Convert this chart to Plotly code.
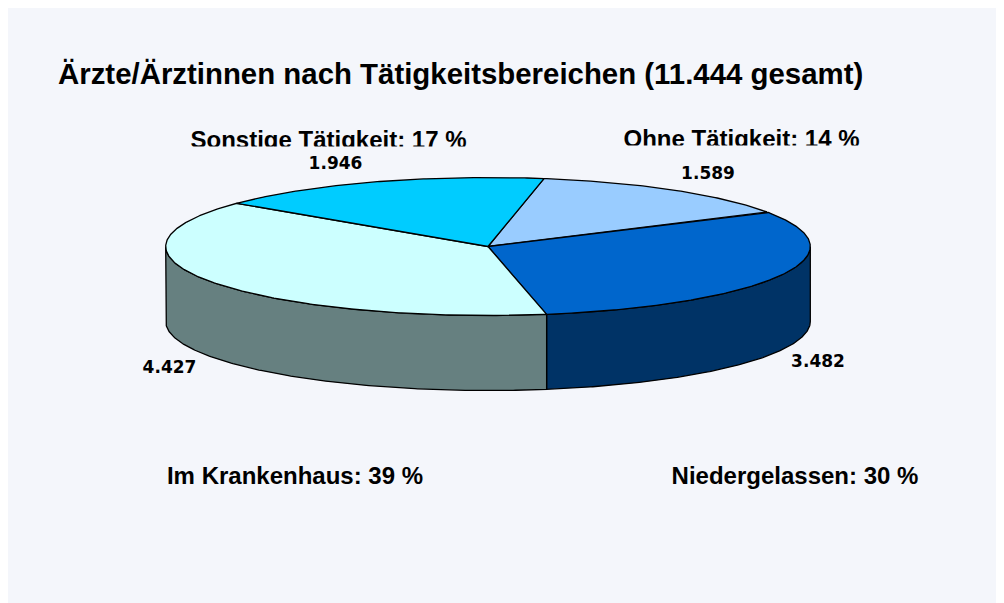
import math
import numpy as np
import plotly.graph_objects as go

# Data
categories = ["Ohne Tätigkeit", "Niedergelassen", "Im Krankenhaus", "Sonstige Tätigkeit"]
values = [1589, 3482, 4427, 1946]
percents = [14, 30, 39, 17]
value_labels = ["1.589", "3.482", "4.427", "1.946"]
title_text = "Ärzte/Ärztinnen nach Tätigkeitsbereichen (11.444 gesamt)"

# Style
top_colors = ["#99CCFF", "#0066CC", "#CCFFFF", "#00CCFF"]
side_colors = ["#4D6680", "#003366", "#668080", "#006680"]
BG = "#F4F6FB"
OFF = 8            # the page's own margin around the figure
W, H = 1004 - OFF, 603 - OFF
CX, CY, RX, RY, DEPTH = 488.0, 246.5, 322.3, 69.0, 75.0
START = 10.0
cat_pos = [(741.5, 140.5), (795, 477.5), (295, 477.5), (328.5, 141.5)]
val_pos = [(708, 174.5), (818, 363), (169.5, 369), (335.5, 165)]


def rim(a0, a1, dy=0.0):
    t = np.radians(np.linspace(a0, a1, max(2, int(abs(a1 - a0) * 2) + 1)))
    return CX + RX * np.sin(t), CY + dy - RY * np.cos(t)


fig = go.Figure()
edges = START + np.concatenate([[0], np.cumsum(values)]) / sum(values) * 360

# side walls (front half only)
for i in range(len(values)):
    a0, a1 = max(edges[i], 90), min(edges[i + 1], 270)
    if a1 <= a0:
        continue
    xt, yt = rim(a0, a1)
    xb, yb = rim(a1, a0, DEPTH)
    fig.add_trace(go.Scatter(
        x=np.concatenate([xt, xb, xt[:1]]), y=np.concatenate([yt, yb, yt[:1]]),
        mode="lines", fill="toself", fillcolor=side_colors[i],
        line=dict(color="#000000", width=1.3), hoverinfo="skip", showlegend=False))

# top slices
for i, name in enumerate(categories):
    xr, yr = rim(edges[i], edges[i + 1])
    fig.add_trace(go.Scatter(
        x=np.concatenate([[CX], xr, [CX]]), y=np.concatenate([[CY], yr, [CY]]),
        mode="lines", fill="toself", fillcolor=top_colors[i], name=name,
        line=dict(color="#000000", width=1.3), hoverinfo="name", showlegend=False))

# category labels
fig.add_trace(go.Scatter(
    x=[p[0] for p in cat_pos], y=[p[1] for p in cat_pos],
    text=[f"<b>{c}: {p} %</b>" for c, p in zip(categories, percents)],
    mode="text", textposition="middle center",
    textfont=dict(family="Liberation Sans", size=24, color="#000000"),
    hoverinfo="skip", showlegend=False))

# value labels
fig.add_trace(go.Scatter(
    x=[p[0] for p in val_pos], y=[p[1] for p in val_pos],
    text=[f"<b>{v}</b>" for v in value_labels],
    mode="text", textposition="middle center",
    textfont=dict(family="DejaVu Sans", size=17, color="#000000"),
    hoverinfo="skip", showlegend=False))

shapes = [
    dict(type="rect", layer="above", x0=180, x1=480, y0=146.5, y1=154, fillcolor=BG, line_width=0),
    dict(type="rect", layer="above", x0=610, x1=870, y0=145.5, y1=155, fillcolor=BG, line_width=0),
]

fig.update_layout(
    width=W, height=H, autosize=False,
    margin=dict(l=0, r=0, t=0, b=0),
    paper_bgcolor=BG, plot_bgcolor=BG,
    shapes=shapes,
    title=dict(text=f"<b>{title_text}</b>", x=(58 - OFF) / W, xanchor="left", xref="paper",
               y=1 - (73.5 - OFF) / H, yanchor="middle", yref="paper",
               font=dict(family="Liberation Sans", size=29.4, color="#000000")),
    xaxis=dict(range=[OFF, OFF + W], visible=False, fixedrange=True),
    yaxis=dict(range=[OFF + H, OFF], visible=False, fixedrange=True),
)
fig.write_html("out.html", config=dict(displayModeBar=False))
